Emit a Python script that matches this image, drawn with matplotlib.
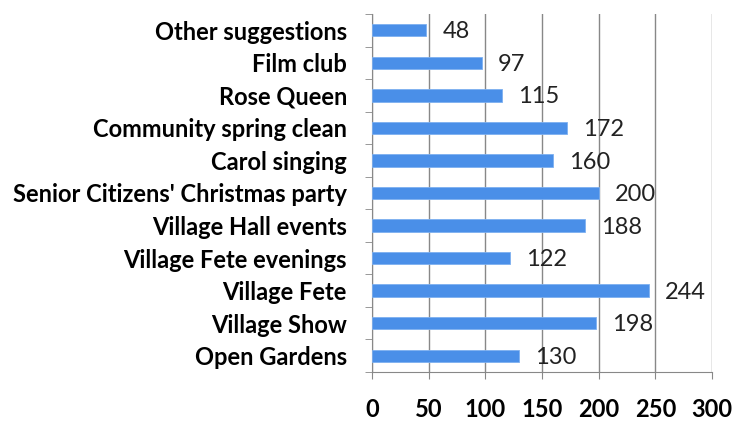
import numpy as np
import matplotlib.pyplot as plt

# Data (top to bottom as shown)
categories = ['Other suggestions', 'Film club', 'Rose Queen', 'Community spring clean',
              'Carol singing', "Senior Citizens' Christmas party", 'Village Hall events',
              'Village Fete evenings', 'Village Fete', 'Village Show', 'Open Gardens']
values = [48, 97, 115, 172, 160, 200, 188, 122, 244, 198, 130]
x_ticks = [0, 50, 100, 150, 200, 250, 300]

plt.rcParams['font.family'] = ['Lato', 'DejaVu Sans']

fig = plt.figure(figsize=(7.33, 4.23), dpi=100)
ax = fig.add_axes([372 / 733, 1 - 372 / 423, 340 / 733, 358 / 423])

n = len(categories)
y = np.arange(n)[::-1]
ax.barh(y, values, height=0.38, color='#4A8FE8', edgecolor='#7DB0F0', linewidth=0.6, zorder=3)

for yi, v in zip(y, values):
    ax.text(v + 14, yi - 0.05, str(v), va='center', ha='left', fontsize=17, color='#222222')

ax.set_xlim(0, 300)
ax.set_ylim(-0.5, n - 0.5)
ax.set_xticks(x_ticks)
ax.set_xticklabels([str(t) for t in x_ticks], fontsize=17, fontweight='bold')
ax.tick_params(axis='x', direction='out', length=5, color='#888888', pad=14)

# category labels at centres, tick marks at boundaries
ax.set_yticks(y)
ax.set_yticklabels(categories, fontsize=17, fontweight='bold')
ax.tick_params(axis='y', which='major', length=0, pad=18)
ax.set_yticks(np.arange(-0.5, n, 1.0), minor=True)
ax.tick_params(axis='y', which='minor', direction='out', length=5, color='#888888')

ax.grid(axis='x', color='#888888', linewidth=1, zorder=0)
for s in ['top', 'right']:
    ax.spines[s].set_visible(False)
for s in ['left', 'bottom']:
    ax.spines[s].set_color('#888888')

fig.savefig('out.png', dpi=100)
